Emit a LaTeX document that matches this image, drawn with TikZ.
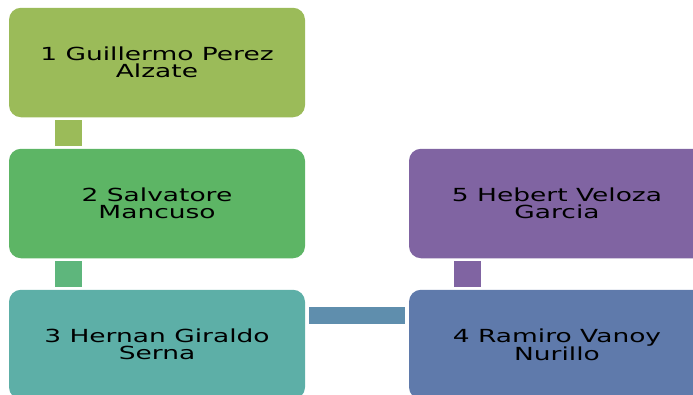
\documentclass[tikz,border=0pt]{standalone}
\usepackage{fontspec}
\setmainfont[FakeStretch=1.47]{DejaVu Sans}
\usetikzlibrary{positioning}
\definecolor{olive1}{HTML}{9BBB59}
\definecolor{green2}{HTML}{5DB565}
\definecolor{green23}{HTML}{5EB67C}
\definecolor{teal3}{HTML}{5DAFA7}
\definecolor{blue34}{HTML}{5F8EAD}
\definecolor{blue4}{HTML}{5F7AAB}
\definecolor{purple5}{HTML}{8064A2}

\begin{document}
\begin{tikzpicture}[
  x=1pt, y=1pt, node distance=141pt, on grid,
  person/.style={rectangle, rounded corners=12pt, minimum width=296pt,
    minimum height=109.5pt, inner sep=0pt, align=center,
    font=\fontsize{18}{17}\selectfont},
  link/.style={line width=27pt, shorten >=3pt, shorten <=3pt},
  ]
  \useasboundingbox (0,0) rectangle (693,-394);

  \node[person, fill=olive1]  (p_1) at (157,-62.5) {1 Guillermo Perez\\Alzate};
  \node[person, fill=green2]  (p_2) [below=of p_1] {2 Salvatore\\Mancuso};
  \node[person, fill=teal3]   (p_3) [below=of p_2] {3 Hernan Giraldo\\Serna};
  \node[person, fill=blue4]   (p_4) [right=400pt of p_3] {4 Ramiro Vanoy\\Nurillo};
  \node[person, fill=purple5] (p_5) [above=of p_4] {5 Hebert Veloza\\Garcia};

  \draw[link, olive1]  ([xshift=59.5pt]p_1.south west) -- ([xshift=59.5pt]p_2.north west);
  \draw[link, green23] ([xshift=59.5pt]p_2.south west) -- ([xshift=59.5pt]p_3.north west);
  \draw[link, purple5] ([xshift=58.5pt]p_5.south west) -- ([xshift=58.5pt]p_4.north west);
  \draw[link, blue34, line width=17pt, shorten >=4pt, shorten <=4pt]
    ([yshift=-25.5pt]p_3.north east) -- ([yshift=-25.5pt]p_4.north west);
\end{tikzpicture}
\end{document}
